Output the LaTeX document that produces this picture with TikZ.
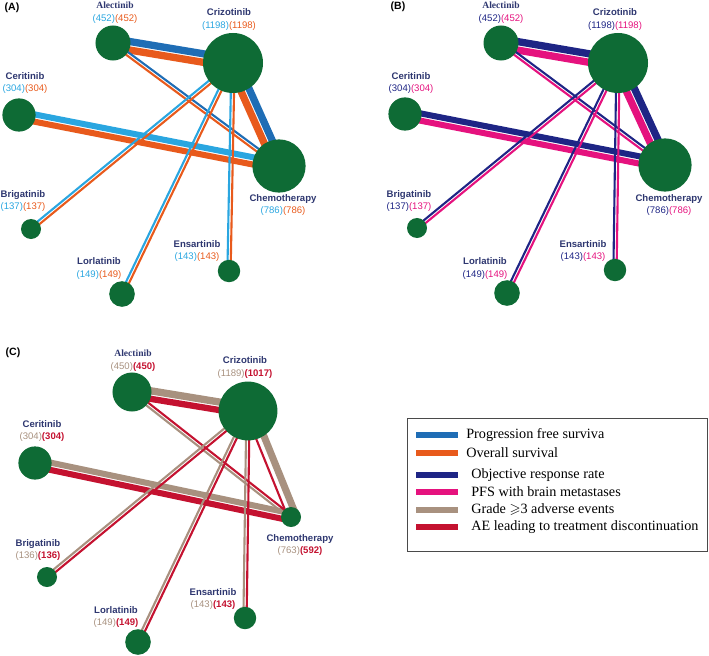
\documentclass[tikz,border=0pt]{standalone}
\usepackage{fontspec}
\usepackage{amssymb}
\setmainfont{Liberation Serif}
\setsansfont{Liberation Sans}
\usetikzlibrary{positioning,calc,backgrounds}

\definecolor{nodegreen}{HTML}{0E6B35}
\definecolor{namecol}{HTML}{2E3770}
\definecolor{pfsd}{HTML}{1F6DB5}
\definecolor{pfsl}{HTML}{2AA6E0}
\definecolor{oscol}{HTML}{E85A1C}
\definecolor{orrcol}{HTML}{1E2585}
\definecolor{pfsbm}{HTML}{E5127E}
\definecolor{gradecol}{HTML}{A8917F}
\definecolor{aecol}{HTML}{C41230}
\definecolor{legframe}{HTML}{4A4A4A}

\tikzset{
	drug/.style={circle, fill=nodegreen, inner sep=0pt, minimum size=#1},
	lbl/.style={align=center, inner sep=0pt, font=\sffamily\fontsize{6.8}{9.2}\selectfont},
	panel/.style={inner sep=0pt, font=\sffamily\bfseries\fontsize{7.5}{9}\selectfont},
	swatch/.style={fill=#1, inner sep=0pt, minimum width=1.05cm, minimum height=0.17cm},
	legtext/.style={anchor=west, inner sep=0pt, font=\fontsize{10.1}{11}\selectfont},
}

% two coloured lines side by side, white gap between
\newcommand{\pairedge}[7][0.8pt]{%
	\pgfmathsetlengthmacro{\offa}{(#5+#1)/2}%
	\pgfmathsetlengthmacro{\offb}{(#7+#1)/2}%
	\draw[#4, line width=#5] ($(#2)!\offa!90:(#3)$) -- ($(#3)!\offa!-90:(#2)$);
	\draw[#6, line width=#7] ($(#2)!\offb!-90:(#3)$) -- ($(#3)!\offb!90:(#2)$);
}
\newcommand{\dname}[1]{{\bfseries\textcolor{namecol}{#1}}}
\newcommand{\sname}[1]{{\rmfamily\bfseries\textcolor{namecol}{#1}}}

\begin{document}
\begin{tikzpicture}[x=0.025cm, y=-0.025cm]
	\useasboundingbox (0,0) rectangle (709,656);

	% (A)
	\node[panel] (pa) at (12,8) {(A)};
	\node[drug=0.875cm] (a-ale) at (113,43) {};
	\node[drug=1.5cm] (a-cri) at (233,63) {};
	\node[drug=0.83cm] (a-cer) at (19,115) {};
	\node[drug=1.33cm] (a-chemo) at (279,166) {};
	\node[drug=0.5cm] (a-bri) at (31,229) {};
	\node[drug=0.64cm] (a-lor) at (122,294) {};
	\node[drug=0.56cm] (a-ens) at (229,271) {};
	\begin{pgfonlayer}{background}
		\pairedge{a-ale}{a-cri}{pfsd}{5.2pt}{oscol}{5.2pt}
		\pairedge{a-cri}{a-chemo}{pfsd}{5.2pt}{oscol}{5.2pt}
		\pairedge{a-cer}{a-chemo}{pfsl}{4.3pt}{oscol}{4.3pt}
		\pairedge{a-ale}{a-chemo}{pfsd}{1.5pt}{oscol}{1.5pt}
		\pairedge{a-bri}{a-cri}{pfsl}{1.5pt}{oscol}{1.5pt}
		\pairedge{a-lor}{a-cri}{pfsl}{1.5pt}{oscol}{1.5pt}
		\pairedge{a-ens}{a-cri}{pfsl}{1.5pt}{oscol}{1.5pt}
	\end{pgfonlayer}
	\node[lbl] (a-ale-l) at (115,13) {\sname{Alectinib}\\\textcolor{pfsl}{(452)}\textcolor{oscol}{(452)}};
	\node[lbl] (a-cri-l) at (229,19.5) {\dname{Crizotinib}\\\textcolor{pfsl}{(1198)}\textcolor{oscol}{(1198)}};
	\node[lbl] (a-cer-l) at (25,83) {\dname{Ceritinib}\\\textcolor{pfsl}{(304)}\textcolor{oscol}{(304)}};
	\node[lbl] (a-chemo-l) at (283,205) {\dname{Chemotherapy}\\\textcolor{pfsl}{(786)}\textcolor{oscol}{(786)}};
	\node[lbl] (a-bri-l) at (23,201) {\dname{Brigatinib}\\\textcolor{pfsl}{(137)}\textcolor{oscol}{(137)}};
	\node[lbl] (a-lor-l) at (99,268.5) {\dname{Lorlatinib}\\\textcolor{pfsl}{(149)}\textcolor{oscol}{(149)}};
	\node[lbl] (a-ens-l) at (197,251) {\dname{Ensartinib}\\\textcolor{pfsl}{(143)}\textcolor{oscol}{(143)}};

	% (B)
	\node[panel] (pb) at (398,7) {(B)};
	\node[drug=0.875cm] (b-ale) at (501,43) {};
	\node[drug=1.5cm] (b-cri) at (618,63) {};
	\node[drug=0.83cm] (b-cer) at (405,114) {};
	\node[drug=1.33cm] (b-chemo) at (665,165) {};
	\node[drug=0.5cm] (b-bri) at (417,228) {};
	\node[drug=0.64cm] (b-lor) at (507,293) {};
	\node[drug=0.56cm] (b-ens) at (615,270) {};
	\begin{pgfonlayer}{background}
		\pairedge{b-ale}{b-cri}{orrcol}{5.2pt}{pfsbm}{5.2pt}
		\pairedge{b-cri}{b-chemo}{orrcol}{5.2pt}{pfsbm}{5.2pt}
		\pairedge{b-cer}{b-chemo}{orrcol}{4.3pt}{pfsbm}{4.3pt}
		\pairedge{b-ale}{b-chemo}{orrcol}{1.5pt}{pfsbm}{1.5pt}
		\pairedge{b-bri}{b-cri}{orrcol}{1.5pt}{pfsbm}{1.5pt}
		\pairedge{b-lor}{b-cri}{orrcol}{1.5pt}{pfsbm}{1.5pt}
		\pairedge{b-ens}{b-cri}{orrcol}{1.5pt}{pfsbm}{1.5pt}
	\end{pgfonlayer}
	\node[lbl] (b-ale-l) at (501,13) {\sname{Alectinib}\\\textcolor{orrcol}{(452)}\textcolor{pfsbm}{(452)}};
	\node[lbl] (b-cri-l) at (615,19.5) {\dname{Crizotinib}\\\textcolor{orrcol}{(1198)}\textcolor{pfsbm}{(1198)}};
	\node[lbl] (b-cer-l) at (411,83) {\dname{Ceritinib}\\\textcolor{orrcol}{(304)}\textcolor{pfsbm}{(304)}};
	\node[lbl] (b-chemo-l) at (669,205) {\dname{Chemotherapy}\\\textcolor{orrcol}{(786)}\textcolor{pfsbm}{(786)}};
	\node[lbl] (b-bri-l) at (409,201) {\dname{Brigatinib}\\\textcolor{orrcol}{(137)}\textcolor{pfsbm}{(137)}};
	\node[lbl] (b-lor-l) at (485,268.5) {\dname{Lorlatinib}\\\textcolor{orrcol}{(149)}\textcolor{pfsbm}{(149)}};
	\node[lbl] (b-ens-l) at (583,251) {\dname{Ensartinib}\\\textcolor{orrcol}{(143)}\textcolor{pfsbm}{(143)}};

	% (C)
	\node[panel] (pc) at (13,353) {(C)};
	\node[drug=0.975cm] (c-ale) at (132,392) {};
	\node[drug=1.47cm] (c-cri) at (248,411) {};
	\node[drug=0.83cm] (c-cer) at (35,463) {};
	\node[drug=0.5cm] (c-chemo) at (291,517) {};
	\node[drug=0.5cm] (c-bri) at (47,577) {};
	\node[drug=0.64cm] (c-lor) at (138,642) {};
	\node[drug=0.56cm] (c-ens) at (245,618) {};
	\begin{pgfonlayer}{background}
		\pairedge{c-ale}{c-cri}{gradecol}{5.2pt}{aecol}{4.5pt}
		\pairedge[2.6pt]{c-cri}{c-chemo}{gradecol}{5pt}{aecol}{1.5pt}
		\pairedge{c-cer}{c-chemo}{gradecol}{4.3pt}{aecol}{4.3pt}
		\pairedge{c-ale}{c-chemo}{aecol}{1.5pt}{gradecol}{1.5pt}
		\pairedge{c-bri}{c-cri}{gradecol}{1.5pt}{aecol}{1.5pt}
		\pairedge{c-lor}{c-cri}{gradecol}{1.5pt}{aecol}{1.5pt}
		\pairedge{c-ens}{c-cri}{gradecol}{1.5pt}{aecol}{1.5pt}
	\end{pgfonlayer}
	\node[lbl] (c-ale-l) at (133,361) {\sname{Alectinib}\\\textcolor{gradecol}{(450)}\textcolor{aecol}{\bfseries(450)}};
	\node[lbl] (c-cri-l) at (245,367.5) {\dname{Crizotinib}\\\textcolor{gradecol}{(1189)}\textcolor{aecol}{\bfseries(1017)}};
	\node[lbl] (c-cer-l) at (42,431) {\dname{Ceritinib}\\\textcolor{gradecol}{(304)}\textcolor{aecol}{\bfseries(304)}};
	\node[lbl] (c-chemo-l) at (300,545) {\dname{Chemotherapy}\\\textcolor{gradecol}{(763)}\textcolor{aecol}{\bfseries(592)}};
	\node[lbl] (c-bri-l) at (38,550) {\dname{Brigatinib}\\\textcolor{gradecol}{(136)}\textcolor{aecol}{\bfseries(136)}};
	\node[lbl] (c-lor-l) at (116,617) {\dname{Lorlatinib}\\\textcolor{gradecol}{(149)}\textcolor{aecol}{\bfseries(149)}};
	\node[lbl] (c-ens-l) at (213,599) {\dname{Ensartinib}\\\textcolor{gradecol}{(143)}\textcolor{aecol}{\bfseries(143)}};

	% legend
	\node[draw=legframe, line width=0.6pt, inner sep=0pt, minimum width=7.5cm, minimum height=3.325cm, anchor=north west] (legend) at (407,418) {};
	\foreach \col/\yy/\xx/\txt in {pfsd/435/466/Progression free surviva, oscol/453/466/Overall survival, orrcol/475/471/Objective response rate, pfsbm/492/471/PFS with brain metastases, gradecol/510/471/{Grade $\geqslant$3 adverse events}, aecol/527/471/AE leading to treatment discontinuation}
	{
		\node[swatch=\col] (sw-\yy) at (437,\yy) {};
		\node[legtext] (lt-\yy) at (\xx,\yy) {\txt};
	}
\end{tikzpicture}
\end{document}
